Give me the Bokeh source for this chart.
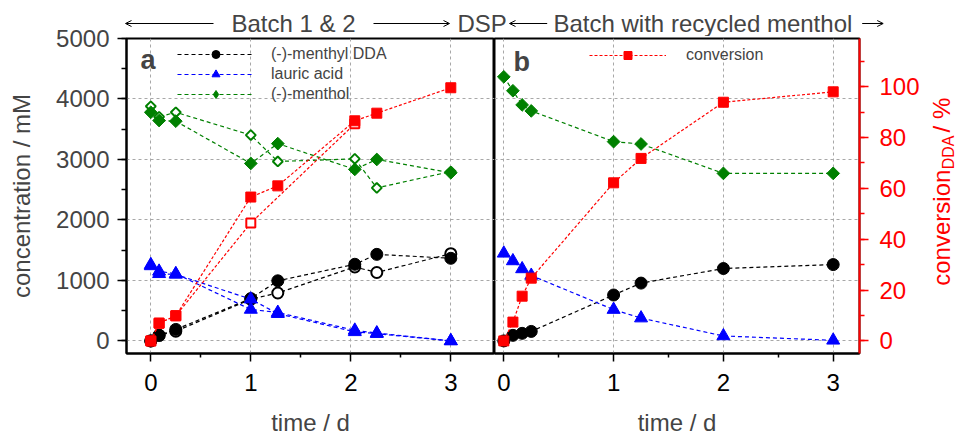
import numpy as np
from bokeh.plotting import figure
from bokeh.models import (Range1d, LinearAxis, FixedTicker, SingleIntervalTicker,
                          Label, Arrow, OpenHead, Legend, LegendItem)
from bokeh.layouts import column, row
from bokeh.embed import file_html
from bokeh.resources import INLINE

FONT = "Liberation Sans"

# ---------------- data ----------------
# Panel a: Batch 1 (filled symbols) and Batch 2 (open symbols)
t_a = [0, 0.083, 0.25, 1, 1.27, 2.04, 2.26, 3]
dda_a1 = [0, 92, 190, 700, 994, 1267, 1431, 1366]
dda_a2 = [0, 92, 160, 690, 792, 1223, 1131, 1443]
lau_a1 = [1240, 1150, 1110, 520, 470, 175, 130, 0]
lau_a2 = [1260, 1110, 1100, 690, 450, 150, 120, 0]
men_a1 = [3780, 3644, 3633, 2934, 3262, 2836, 3000, 2780]
men_a2 = [3879, 3705, 3780, 3403, 2967, 3010, 2530, 2800]
conv_a1 = [0, 7.0, 9.9, 56.6, 61.0, 86.6, 89.6, 99.6]
t_a_conv2 = [0, 0.083, 0.25, 1, 2.04]
conv_a2 = [0, 7.0, 9.9, 46.4, 85.4]

# Panel b: batch with recycled menthol
t_b = [0, 0.083, 0.167, 0.25, 1, 1.25, 2, 3]
dda_b = [0, 92, 125, 157, 759, 956, 1197, 1262]
lau_b = [1448, 1322, 1190, 1082, 518, 377, 82, 10]
men_b = [4366, 4136, 3902, 3803, 3295, 3256, 2770, 2770]
conv_b = [0, 7.4, 17.6, 24.7, 62.2, 71.8, 93.9, 98.0]

x_ticks = [0, 1, 2, 3]
x_minor = [0.5, 1.5, 2.5]
legend_labels = ["(-)-menthyl DDA", "lauric acid", "(-)-menthol", "conversion"]

BLACK, BLUE, GREEN, RED = "#000000", "#0000ff", "#008000", "#ff0000"
DASH = "4 3"
RDASH = "3 2"
GRID = "#a8a8a8"

Y_RANGE = (-208, 5000)
CONV_RANGE = (-4.95, 118.98)
HDR_H = 36
OVERLAP = 16
FIG_H = 418
TOP = 18
BOTTOM = 82


def style_xaxis(p):
    ax = p.xaxis[0]
    ax.ticker = FixedTicker(ticks=x_ticks, minor_ticks=x_minor)
    ax.axis_line_width = 2
    ax.axis_line_color = BLACK
    ax.major_tick_out = 8
    ax.major_tick_in = 0
    ax.minor_tick_out = 4
    ax.minor_tick_in = 0
    ax.major_tick_line_width = 1.5
    ax.minor_tick_line_width = 1.5
    ax.major_label_text_font = FONT
    ax.major_label_text_font_size = "24px"
    ax.major_label_text_color = BLACK
    ax.major_label_standoff = 12
    ax.axis_label = "time / d"
    ax.axis_label_text_font = FONT
    ax.axis_label_text_font_size = "24px"
    ax.axis_label_text_font_style = "normal"
    ax.axis_label_standoff = 15
    p.xgrid.grid_line_color = GRID
    p.xgrid.grid_line_dash = "3 3"
    p.xgrid.grid_line_width = 1


def base_fig(width, xr, ml, mr, yloc):
    p = figure(width=width, height=FIG_H, x_range=Range1d(*xr), y_range=Range1d(*Y_RANGE),
               toolbar_location=None, output_backend="svg",
               min_border_left=ml, min_border_right=mr, min_border_top=TOP,
               min_border_bottom=BOTTOM, y_axis_location=yloc)
    p.outline_line_color = BLACK
    p.outline_line_width = 2
    p.outline_line_alpha = 1
    p.background_fill_color = "white"
    p.border_fill_alpha = 0
    p.extra_y_ranges = {"conv": Range1d(*CONV_RANGE)}
    style_xaxis(p)
    p.ygrid.ticker = SingleIntervalTicker(interval=1000)
    p.ygrid.grid_line_color = GRID
    p.ygrid.grid_line_dash = "3 3"
    p.ygrid.grid_line_width = 1
    return p


def style_legend(items, loc, standoff):
    return Legend(items=items, location=loc, glyph_width=77, glyph_height=20, spacing=0,
                  label_standoff=standoff, padding=0, margin=0, border_line_color=None,
                  background_fill_alpha=0, label_text_font=FONT, label_text_font_size="16px",
                  label_text_baseline="middle", label_height=20)


# ---------------- panel a ----------------
pa = base_fig(494, (-0.243, 3.437), 126, 0, "left")
ya = pa.yaxis[0]
ya.ticker = SingleIntervalTicker(interval=1000, num_minor_ticks=2)
ya.axis_line_width = 2
ya.major_tick_out = 9
ya.major_tick_in = 0
ya.minor_tick_out = 5
ya.minor_tick_in = 0
ya.major_tick_line_width = 1.5
ya.minor_tick_line_width = 1.5
ya.major_label_text_font = FONT
ya.major_label_text_font_size = "24px"
ya.major_label_standoff = 8
ya.axis_label = "concentration / mM"
ya.axis_label_text_font = FONT
ya.axis_label_text_font_size = "24px"
ya.axis_label_text_font_style = "normal"
ya.axis_label_standoff = 18

# menthol
pa.line(t_a, men_a2, line_color=GREEN, line_dash=DASH, line_width=1.2)
pa.scatter(t_a, men_a2, marker="square", angle=np.pi / 4, size=7, fill_color="white",
           line_color=GREEN, line_width=2)
men_line = pa.line(t_a, men_a1, line_color=GREEN, line_dash=DASH, line_width=1.2)
pa.scatter(t_a, men_a1, marker="square", angle=np.pi / 4, size=9, fill_color=GREEN,
           line_color=GREEN)
# legend key only (NaN point, not drawn in the plot)
men_leg = pa.scatter([np.nan], [np.nan], marker="diamond", size=10, fill_color=GREEN,
                     line_color=GREEN)
# menthyl DDA
pa.line(t_a, dda_a2, line_color=BLACK, line_dash=DASH, line_width=1.2)
pa.scatter(t_a, dda_a2, marker="circle", size=11, fill_color="white", line_color=BLACK, line_width=2)
dda_line = pa.line(t_a, dda_a1, line_color=BLACK, line_dash=DASH, line_width=1.2)
dda_sc = pa.scatter(t_a, dda_a1, marker="circle", size=12, fill_color=BLACK, line_color=BLACK)
# lauric acid
pa.line(t_a, lau_a2, line_color=BLUE, line_dash=DASH, line_width=1.2)
pa.scatter(t_a, lau_a2, marker="triangle", size=13, fill_color=BLUE, line_color=BLUE)
lau_line = pa.line(t_a, lau_a1, line_color=BLUE, line_dash=DASH, line_width=1.2)
lau_sc = pa.scatter(t_a, lau_a1, marker="triangle", size=13, fill_color=BLUE, line_color=BLUE)
# conversion
pa.line(t_a_conv2, conv_a2, line_color=RED, line_dash=RDASH, line_width=1.2, y_range_name="conv")
pa.scatter(t_a_conv2, conv_a2, marker="square", size=9, fill_color="white", line_color=RED,
           line_width=2, y_range_name="conv")
pa.line(t_a, conv_a1, line_color=RED, line_dash=RDASH, line_width=1.2, y_range_name="conv")
pa.scatter(t_a, conv_a1, marker="square", size=10, fill_color=RED, line_color=RED,
           y_range_name="conv")

pa.add_layout(style_legend([LegendItem(label=legend_labels[0], renderers=[dda_line, dda_sc]),
                            LegendItem(label=legend_labels[1], renderers=[lau_line, lau_sc]),
                            LegendItem(label=legend_labels[2], renderers=[men_line, men_leg])],
                           (51, 249), 17))

pa.add_layout(Label(x=14, y=294, x_units="screen", y_units="screen", text="a",
                    text_baseline="middle", text_font=FONT, text_font_size="27px",
                    text_font_style="bold"))

# ---------------- panel b ----------------
pb = base_fig(431, (-0.0847, 3.2395), 0, 66, None)
yr = LinearAxis(y_range_name="conv", ticker=SingleIntervalTicker(interval=20, num_minor_ticks=2))
yr.axis_line_color = RED
yr.axis_line_width = 2
yr.major_tick_line_color = RED
yr.minor_tick_line_color = RED
yr.major_tick_out = 9
yr.major_tick_in = 0
yr.minor_tick_out = 5
yr.minor_tick_in = 0
yr.major_tick_line_width = 1.5
yr.minor_tick_line_width = 1.5
yr.major_label_text_color = RED
yr.major_label_text_font = FONT
yr.major_label_text_font_size = "24px"
yr.major_label_standoff = 11
pb.add_layout(yr, "right")

pb.line(t_b, men_b, line_color=GREEN, line_dash=DASH, line_width=1.2)
pb.scatter(t_b, men_b, marker="square", angle=np.pi / 4, size=9, fill_color=GREEN, line_color=GREEN)
pb.line(t_b, dda_b, line_color=BLACK, line_dash=DASH, line_width=1.2)
pb.scatter(t_b, dda_b, marker="circle", size=12, fill_color=BLACK, line_color=BLACK)
pb.line(t_b, lau_b, line_color=BLUE, line_dash=DASH, line_width=1.2)
pb.scatter(t_b, lau_b, marker="triangle", size=13, fill_color=BLUE, line_color=BLUE)
conv_line = pb.line(t_b, conv_b, line_color=RED, line_dash=RDASH, line_width=1.2, y_range_name="conv")
conv_sc = pb.scatter(t_b, conv_b, marker="square", size=10, fill_color=RED, line_color=RED,
                     y_range_name="conv")

pb.add_layout(style_legend([LegendItem(label=legend_labels[3], renderers=[conv_line, conv_sc])],
                           (95, 288), 20))
pb.add_layout(Label(x=19, y=292, x_units="screen", y_units="screen", text="b",
                    text_baseline="middle", text_font=FONT, text_font_size="27px",
                    text_font_style="bold"))

# ---------------- right axis title (conversion_DDA / %) ----------------
# the row aligns this strip's frame with the panels (page y 38..356);
# data units: x = page pixels, y = 438 - page pixels
pc = figure(width=32, height=FIG_H, x_range=Range1d(925, 957),
            y_range=Range1d(438 - 356, 438 - 38),
            x_axis_location=None, y_axis_location=None, toolbar_location=None,
            output_backend="svg", min_border=0, min_border_top=TOP, min_border_bottom=BOTTOM)
pc.outline_line_color = None
pc.border_fill_alpha = 0
pc.background_fill_alpha = 0
pc.grid.visible = False
for txt, xc, yc, fs in [("conversion", 941.2, 209, "24px"), ("DDA", 948, 285, "16px"),
                        ("/ %", 941.2, 322.7, "24px")]:
    pc.add_layout(Label(x=xc, y=yc, text=txt, angle=np.pi / 2, text_align="center",
                        text_baseline="middle", text_color=RED, text_font=FONT,
                        text_font_size=fs))

# ---------------- header ----------------
hdr = figure(width=957, height=HDR_H, x_range=Range1d(0, 957), y_range=Range1d(0, HDR_H),
             x_axis_location=None, y_axis_location=None, toolbar_location=None,
             output_backend="svg", min_border=0)
hdr.outline_line_color = None
hdr.grid.visible = False
for txt, x in [("Batch 1 & 2", 231), ("DSP", 457), ("Batch with recycled menthol", 553)]:
    hdr.add_layout(Label(x=x, y=13.3, text=txt, text_align="left", text_baseline="middle",
                         text_font=FONT, text_font_size="24px"))
for xs, xe in [(213, 125), (373, 449), (546.7, 509), (861.7, 882.7)]:
    hdr.add_layout(Arrow(x_start=xs, y_start=13, x_end=xe, y_end=13, line_width=1,
                         end=OpenHead(size=6, line_width=1)))

body = row(pa, pb, pc)
body.margin = (-OVERLAP, 0, 0, 0)
layout = column(hdr, body)
open("out.html", "w").write(file_html(layout, INLINE))
